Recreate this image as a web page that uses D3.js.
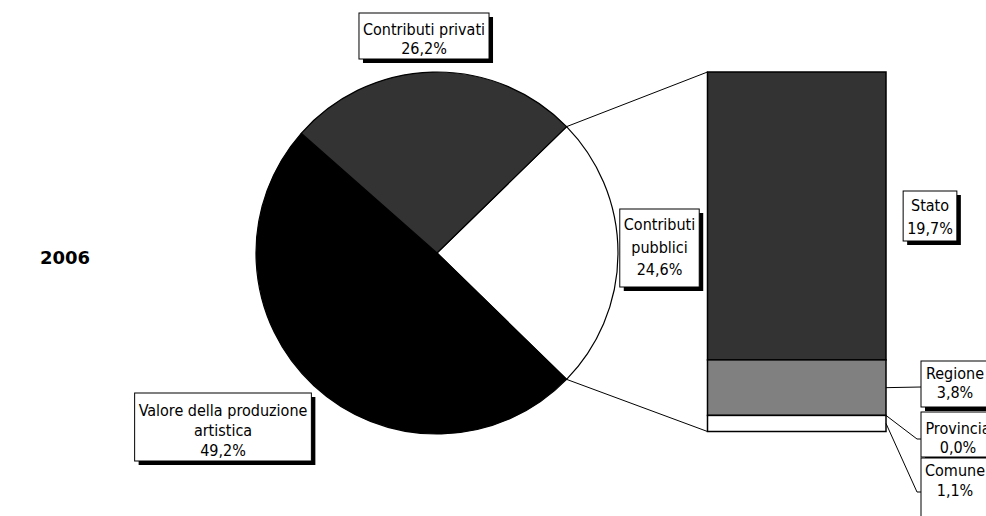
<!DOCTYPE html>
<html><head><meta charset="utf-8">
<script src="https://cdn.jsdelivr.net/npm/d3@7"></script>
<style>
html,body{margin:0;padding:0;background:#fff;}
svg{display:block;}
</style></head>
<body>
<svg id="chart" width="986" height="516"></svg>
<script>
// ---- data ----
const yearLabel = "2006";
const pieCategories = ["Contributi pubblici", "Valore della produzione artistica", "Contributi privati"];
const pieLabelLines = [["Contributi", "pubblici"], ["Valore della produzione", "artistica"], ["Contributi privati"]];
const pieValues = [24.6, 49.2, 26.2];
const barCategories = ["Stato", "Regione", "Provincia", "Comune"];
const barValues = [19.7, 3.8, 0.0, 1.1];

const pieColors = ["#ffffff", "#000000", "#333333"];
const barColors = ["#333333", "#808080", "#c0c0c0", "#ffffff"];
const FONT = "'DejaVu Sans Condensed', 'DejaVu Sans', sans-serif";
const FS = 16;
const fmt = v => v.toFixed(1).replace(".", ",") + "%";

const svg = d3.select("#chart");

// ---- pie ----
const cx = 437, cy = 253, R = 181;
const total = d3.sum(pieValues);
const half = Math.PI * pieValues[0] / total;
const pie = d3.pie().sort(null).value(d => d)
  .startAngle(Math.PI / 2 - half).endAngle(Math.PI / 2 - half + 2 * Math.PI);
const arcs = pie(pieValues);
const arc = d3.arc().innerRadius(0).outerRadius(R);
const gPie = svg.append("g").attr("transform", `translate(${cx},${cy})`);
gPie.selectAll("path").data(arcs).join("path")
  .attr("d", arc)
  .attr("fill", (d, i) => pieColors[i])
  .attr("stroke", "#000").attr("stroke-width", 1.2);

// ---- bar of pie ----
const bx0 = 707.5, bx1 = 886;
const barTotal = d3.sum(barValues);
const y = d3.scaleLinear().domain([0, barTotal]).range([72, 431.5]);
const stacks = [];
let acc = 0;
barValues.forEach((v, i) => { stacks.push({ i, y0: acc, y1: acc + v, v }); acc += v; });
const gBar = svg.append("g");
gBar.selectAll("rect").data(stacks.filter(s => s.v > 0)).join("rect")
  .attr("x", bx0).attr("width", bx1 - bx0)
  .attr("y", d => y(d.y0)).attr("height", d => y(d.y1) - y(d.y0))
  .attr("fill", d => barColors[d.i])
  .attr("stroke", "#000").attr("stroke-width", 1.5);

// connector lines from pie slice edges to bar
const a0 = arcs[0].startAngle, a1 = arcs[0].endAngle;
const pAt = a => [cx + R * Math.sin(a), cy - R * Math.cos(a)];
const p0 = pAt(a0), p1 = pAt(a1);
svg.append("line").attr("x1", p0[0]).attr("y1", p0[1]).attr("x2", bx0).attr("y2", y(0))
  .attr("stroke", "#000").attr("stroke-width", 1);
svg.append("line").attr("x1", p1[0]).attr("y1", p1[1]).attr("x2", bx0).attr("y2", y(barTotal))
  .attr("stroke", "#000").attr("stroke-width", 1);

// ---- label boxes ----
function labelBox(lines, opt) {
  const g = svg.append("g");
  const lh = opt.lh || 22.5;
  const texts = g.append("text")
    .attr("font-family", FONT).attr("font-size", FS).attr("fill", "#000")
    .attr("text-anchor", "middle");
  lines.forEach((l, k) => {
    texts.append("tspan").attr("x", 0).attr("y", k * lh).text(l);
  });
  let w = 0;
  texts.selectAll("tspan").each(function () { w = Math.max(w, this.getComputedTextLength()); });
  const bw = opt.w || (w + 2 * (opt.pad || 4));
  const bh = opt.h || (lines.length * lh + 6);
  const left = opt.cx != null ? opt.cx - bw / 2 : opt.x;
  const ctr = left + bw / 2;
  g.insert("rect", "text").attr("x", left + 4).attr("y", opt.y + 4).attr("width", bw).attr("height", bh).attr("fill", "#000");
  g.insert("rect", "text").attr("x", left).attr("y", opt.y).attr("width", bw).attr("height", bh)
    .attr("fill", "#fff").attr("stroke", "#000").attr("stroke-width", 1);
  const firstBase = opt.base != null ? opt.base : opt.y + (bh - lines.length * lh) / 2 + lh * 0.72;
  texts.attr("transform", `translate(${ctr},${firstBase})`);
  return g;
}

// pie labels
labelBox([...pieLabelLines[2], fmt(pieValues[2])], { cx: 424, y: 13, h: 46, lh: 18.5, base: 35 });
labelBox([...pieLabelLines[0], fmt(pieValues[0])], { cx: 659.5, y: 209, h: 78 });
labelBox([...pieLabelLines[1], fmt(pieValues[1])], { cx: 223, y: 393, h: 68, lh: 20, base: 416 });

// bar leader lines
const midY = s => (y(s.y0) + y(s.y1)) / 2;
const leaderTargets = [null, 387, 439, 492];
[1, 2, 3].forEach(i => {
  const s = stacks[i];
  const sy = s.v > 0 ? midY(s) : y(s.y0);
  const ty = leaderTargets[i];
  const kx = i === 1 ? 921 : 917;
  svg.append("polyline")
    .attr("points", `${bx1},${sy} ${kx},${ty} 921,${ty}`)
    .attr("fill", "none").attr("stroke", "#000").attr("stroke-width", 1);
});

// bar labels
labelBox([barCategories[0], fmt(barValues[0])], { cx: 930, y: 191, h: 50, lh: 23, base: 211 });
labelBox([barCategories[1], fmt(barValues[1])], { x: 921, y: 361, w: 68, h: 46, lh: 19, base: 379 });
labelBox([barCategories[2], fmt(barValues[2])], { x: 921, y: 412, w: 74, h: 45, lh: 19, base: 434 });
labelBox([barCategories[3], fmt(barValues[3])], { x: 921, y: 458, w: 68, h: 62, lh: 20, base: 476 });

// year label
svg.append("text").attr("x", 40).attr("y", 264)
  .attr("font-family", "'DejaVu Sans', sans-serif").attr("font-size", 18).attr("font-weight", "bold")
  .text(yearLabel);
</script>
</body></html>
